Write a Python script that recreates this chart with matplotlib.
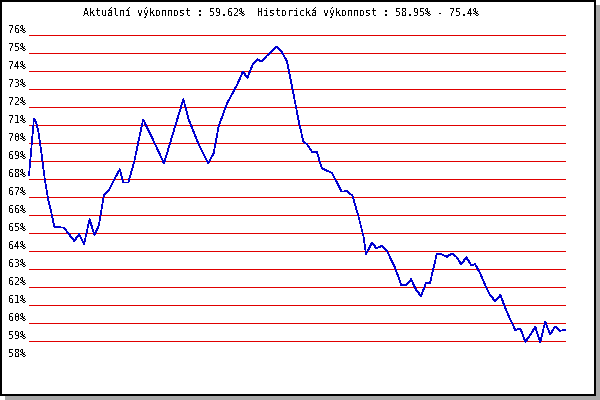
import matplotlib
matplotlib.use("Agg")
import matplotlib.pyplot as plt
import matplotlib.transforms as mtransforms
from matplotlib.patches import Rectangle

plt.rcParams['font.family'] = ['DejaVu Sans Mono']
plt.rcParams['text.antialiased'] = False

title = "Aktuální výkonnost : 59.62%  Historická výkonnost : 58.95% - 75.4%"

y_levels = list(range(58, 77))
y_labels = [f"{v}%" for v in y_levels]

t = [0.0, 1.0, 1.4, 1.9, 2.6, 3.2, 3.9, 4.6, 5.1, 6.9, 7.4, 9.1, 10.1, 11.1, 12.2,
     13.2, 14.1, 15.1, 16.1, 17.3, 18.3, 19.0, 20.0, 21.2, 22.4, 23.0, 23.7, 24.7,
     27.2, 31.1, 32.1, 34.1, 36.1, 37.2, 38.2, 39.9, 41.9, 43.1, 44.0, 45.2, 46.0,
     46.9, 47.9, 48.9, 49.9, 50.9, 52.0, 53.2, 54.5, 55.3, 56.0, 57.1, 58.0, 59.0,
     61.0, 63.0, 64.1, 65.2, 66.4, 67.4, 67.9, 69.1, 70.0, 71.1, 72.1, 73.8, 75.0,
     76.0, 77.0, 78.0, 79.0, 80.0, 80.8, 82.2, 83.2, 84.2, 85.2, 86.1, 87.1, 88.1,
     89.1, 89.9, 90.9, 91.9, 92.9, 93.9, 95.0, 95.8, 97.0, 98.0, 99.0, 100.0, 101.0,
     102.0, 103.0, 104.0, 105.0, 106.0, 107.0, 108.1]
perf = [68.22, 71.37, 71.18, 70.63, 69.24, 67.94, 66.83, 66.00, 65.35, 65.30, 65.17,
        64.56, 64.93, 64.39, 65.76, 64.89, 65.44, 67.11, 67.39, 68.04, 68.54, 67.80,
        67.80, 68.96, 70.54, 71.31, 70.91, 70.35, 68.87, 72.44, 71.37, 69.98, 68.87,
        69.43, 70.91, 72.20, 73.22, 73.96, 73.63, 74.43, 74.65, 74.52, 74.85, 75.07,
        75.35, 75.07, 74.52, 72.85, 71.00, 70.07, 69.94, 69.48, 69.52, 68.59, 68.35,
        67.30, 67.33, 67.06, 65.91, 64.80, 63.83, 64.46, 64.15, 64.28, 64.02, 63.04,
        62.11, 62.11, 62.43, 61.83, 61.50, 62.24, 62.24, 63.87, 63.81, 63.68, 63.87,
        63.68, 63.26, 63.65, 63.22, 63.26, 62.76, 62.11, 61.56, 61.22, 61.56, 60.94,
        60.17, 59.61, 59.70, 58.96, 59.33, 59.80, 58.93, 60.07, 59.37, 59.80, 59.57,
        59.62]

W, H = 600, 400
fig = plt.figure(figsize=(6, 4), dpi=100)
fig.patch.set_facecolor('white')

# shadow, frame, inner panel
fig.patches.append(Rectangle((5 / W, 0), 595 / W, 395 / H, transform=fig.transFigure,
                             facecolor='#a8a8a8', edgecolor='none', zorder=-3))
fig.patches.append(Rectangle((0, 4 / H), 596 / W, 396 / H, transform=fig.transFigure,
                             facecolor='black', edgecolor='none', zorder=-2))
fig.patches.append(Rectangle((2 / W, 6 / H), 592 / W, 392 / H, transform=fig.transFigure,
                             facecolor='white', edgecolor='none', zorder=-1))

ax = fig.add_axes([29 / W, 41 / H, 537 / W, 324 / H])
ax.set_zorder(2)
ax.set_facecolor('none')
ax.set_xlim(0, 108.2)
ax.set_ylim(58, 76)
for s in ax.spines.values():
    s.set_visible(False)
ax.set_xticks([])
ax.set_yticks([])

ax.hlines(y_levels, 0, 108.2, colors='#e00000', linewidth=0.72, antialiased=False, zorder=1)
ax.plot(t, perf, color='#0000d0', linewidth=0.5, antialiased=False, zorder=2, clip_on=False)

trans = mtransforms.blended_transform_factory(fig.transFigure, ax.transData)
trans = mtransforms.offset_copy(trans, fig=fig, x=0, y=2, units='dots')
for v, lab in zip(y_levels, y_labels):
    ax.text(26.5 / W, v, lab, transform=trans, ha='right', va='baseline',
            fontsize=7.2, color='black', clip_on=False)

fig.text(83 / W, 1 - 13 / H, title, ha='left', va='center', fontsize=7.2,
         color='black', zorder=3)

fig.savefig('out.png', dpi=100)
